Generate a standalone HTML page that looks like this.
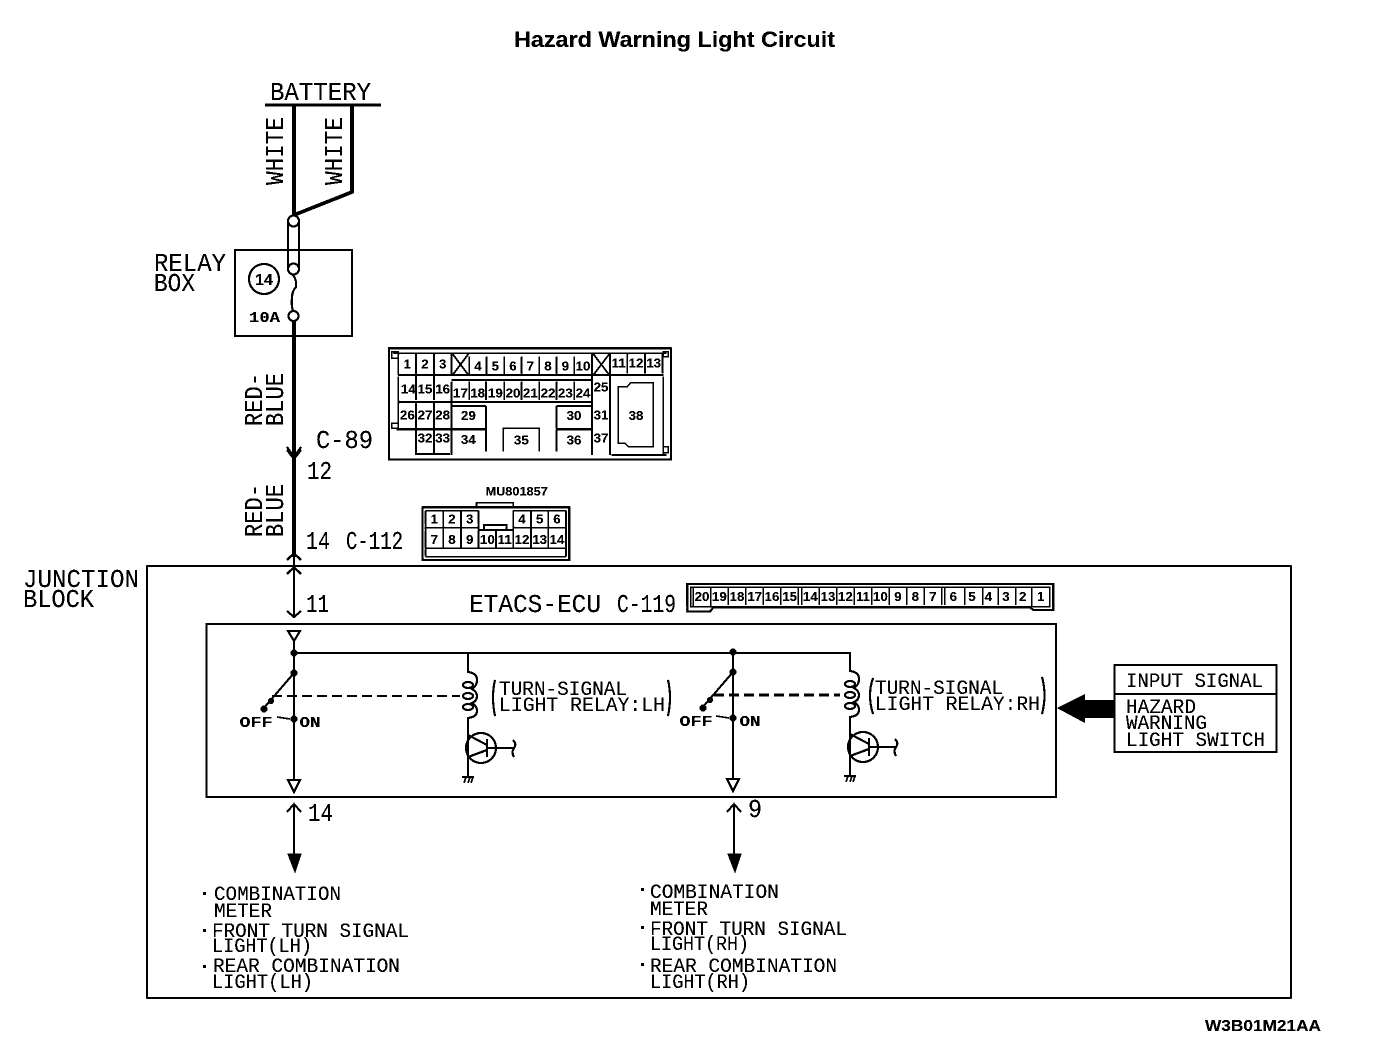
<!DOCTYPE html>
<html><head><meta charset="utf-8"><title>Hazard Warning Light Circuit</title>
<style>
html,body{margin:0;padding:0;background:#fff;width:1376px;height:1042px;overflow:hidden}
svg{display:block}
text{font-family:"Liberation Mono",monospace;fill:#000}
.l{font-size:20px}
.m{font-size:26px}
.v{font-size:26px}
.n{font-family:"Liberation Sans",sans-serif;font-weight:bold;text-anchor:middle;font-size:40px}
.s{font-family:"Liberation Mono",monospace;font-weight:bold;text-anchor:middle;font-size:15px}
</style></head><body>
<svg width="1376" height="1042" viewBox="0 0 1376 1042" xmlns="http://www.w3.org/2000/svg">
<defs><filter id="bw" x="0" y="0" width="100%" height="100%" color-interpolation-filters="sRGB"><feComponentTransfer><feFuncR type="discrete" tableValues="0 0 1"/><feFuncG type="discrete" tableValues="0 0 1"/><feFuncB type="discrete" tableValues="0 0 1"/></feComponentTransfer></filter></defs>
<g filter="url(#bw)">
<rect width="1376" height="1042" fill="#fff"/>
<text x="514" y="47" textLength="321" lengthAdjust="spacingAndGlyphs" style="font-family:'Liberation Sans',sans-serif;font-weight:bold;font-size:22px">Hazard Warning Light Circuit</text>

<!-- battery -->
<text class="m" x="270" y="100" textLength="101" lengthAdjust="spacingAndGlyphs">BATTERY</text>
<g fill="none" stroke="#000">
<path d="M265 105H381" stroke-width="3"/>
<path d="M294 105V218" stroke-width="4"/>
<path d="M352 105V192L294 215" stroke-width="3.5"/>
<path d="M288 221V268M299 221V268" stroke-width="2"/>
<circle cx="293.500" cy="221" r="5.500" stroke-width="2" fill="#fff"/>
<circle cx="293.500" cy="269" r="5.500" stroke-width="2" fill="#fff"/>
<circle cx="293.500" cy="316" r="5" stroke-width="2" fill="#fff"/>
<path d="M293 275Q297 280 296 287Q292 291 292 298Q291 304 293 311" stroke-width="2"/>
<rect x="235" y="250" width="117" height="86" stroke-width="2"/>
<circle cx="264" cy="279" r="15" stroke-width="2"/>
<path d="M294 321V557" stroke-width="4"/>
<path d="M294 557V617" stroke-width="2"/>
<path d="M287 447L294 457L301 447M287 450L294 459L301 450" stroke-width="2"/>
<path d="M287 560L294 553L301 560M287 574L294 567L301 574M287 611L294 617L301 611" stroke-width="2"/>
<rect x="147" y="566" width="1144" height="432" stroke-width="1.500"/>
<rect x="206.500" y="624" width="849.500" height="173" stroke-width="2"/>
</g>
<text class="v" transform="translate(283,185) rotate(-90)" textLength="68" lengthAdjust="spacingAndGlyphs">WHITE</text>
<text class="v" transform="translate(342,185) rotate(-90)" textLength="68" lengthAdjust="spacingAndGlyphs">WHITE</text>
<text x="154" y="271" class="m" textLength="72" lengthAdjust="spacingAndGlyphs">RELAY</text>
<text x="154" y="291" class="m" textLength="41" lengthAdjust="spacingAndGlyphs">BOX</text>
<text x="264" y="285" class="s" style="font-family:'Liberation Sans',sans-serif;font-size:16px">14</text>
<text x="249" y="322" class="s" style="font-size:15px;text-anchor:start" textLength="31" lengthAdjust="spacingAndGlyphs">10A</text>

<text class="v" transform="translate(262,426) rotate(-90)" textLength="53" lengthAdjust="spacingAndGlyphs">RED-</text>
<text class="v" transform="translate(283,426) rotate(-90)" textLength="53" lengthAdjust="spacingAndGlyphs">BLUE</text>
<text class="v" transform="translate(262,537) rotate(-90)" textLength="53" lengthAdjust="spacingAndGlyphs">RED-</text>
<text class="v" transform="translate(283,537) rotate(-90)" textLength="53" lengthAdjust="spacingAndGlyphs">BLUE</text>

<text class="m" x="316" y="448" textLength="57" lengthAdjust="spacingAndGlyphs">C-89</text>
<text class="m" x="307" y="479" textLength="25" lengthAdjust="spacingAndGlyphs">12</text>
<text class="m" x="306" y="549" textLength="24" lengthAdjust="spacingAndGlyphs">14</text>
<text class="m" x="346" y="549" textLength="57" lengthAdjust="spacingAndGlyphs">C-112</text>
<text class="m" x="306" y="612" textLength="23" lengthAdjust="spacingAndGlyphs">11</text>
<text class="m" x="23" y="587" textLength="116" lengthAdjust="spacingAndGlyphs">JUNCTION</text>
<text class="m" x="23" y="607" textLength="71" lengthAdjust="spacingAndGlyphs">BLOCK</text>
<text class="m" x="469" y="612" textLength="132" lengthAdjust="spacingAndGlyphs">ETACS-ECU</text>
<text class="m" x="617" y="612" textLength="59" lengthAdjust="spacingAndGlyphs">C-119</text>

<!-- C-89 and C-112 connectors, drawn in 3x coords -->
<g transform="translate(380,340) scale(.33333)">
<g fill="none" stroke="#000">
<rect x="27" y="25" width="846" height="333" stroke-width="6"/>
<path stroke-width="5" d="M40 40H860M55 40V105M108 40V180M108 190V345M162 40V180M162 190V345M215 40V105M215 125V345M268 50V105M320 50V105M373 50V105M425 50V105M478 50V105M530 50V105M583 50V105M636 40V345M690 40V345M742 40V100M795 40V100M848 40V100"/>
<path stroke-width="6" d="M55 105H850M215 120H636"/>
<path stroke-width="5" d="M55 110V190M268 125V180M318 125V180M373 125V180M425 125V180M478 125V180M530 125V180M583 125V180"/>
<path stroke-width="7" d="M55 186H636M215 198H318M530 198H636M50 268H215M215 268H318M530 268H636M110 342H210M695 345H860"/>
<path stroke-width="5" d="M55 190V272M318 198V335M530 198V335M370 335V265H478V335M850 110V345"/>
<path stroke-width="4" d="M715 140H742L752 128H820V320H745L735 310H715Z"/>
<path stroke-width="5" d="M218 42L265 105M265 42L218 105M640 42L688 105M688 42L640 105"/>
<path stroke-width="4" d="M35 35H55V55H35ZM35 250H55V265H35ZM850 320H865V338H850ZM850 35H865V50H850Z"/>
<!-- C-112 -->
<rect x="128" y="502" width="440" height="158" stroke-width="6"/>
<path stroke-width="5" d="M290 502V488H400V502M137 512H296M400 512H558M137 512V650M190 512V625M243 512V625M296 512V625M400 512V625M453 512V625M505 512V625M558 512V650M137 563H296M400 563H558M296 570H400M348 570V625M137 625H558M137 650H558M312 570V555H380V570"/>
</g>
<g class="t">
<text class="n" x="82" y="85">1</text><text class="n" x="135" y="85">2</text><text class="n" x="188" y="85">3</text>
<text class="n" x="294" y="92">4</text><text class="n" x="346" y="92">5</text><text class="n" x="399" y="92">6</text><text class="n" x="451" y="92">7</text><text class="n" x="504" y="92">8</text><text class="n" x="556" y="92">9</text><text class="n" x="609" y="92">10</text>
<text class="n" x="716" y="82">11</text><text class="n" x="768" y="82">12</text><text class="n" x="821" y="82">13</text>
<text class="n" x="85" y="160">14</text><text class="n" x="135" y="160">15</text><text class="n" x="188" y="160">16</text>
<text class="n" x="241" y="172">17</text><text class="n" x="293" y="172">18</text><text class="n" x="346" y="172">19</text><text class="n" x="399" y="172">20</text><text class="n" x="451" y="172">21</text><text class="n" x="504" y="172">22</text><text class="n" x="556" y="172">23</text><text class="n" x="609" y="172">24</text>
<text class="n" x="663" y="155">25</text>
<text class="n" x="82" y="238">26</text><text class="n" x="135" y="238">27</text><text class="n" x="188" y="238">28</text><text class="n" x="265" y="240">29</text><text class="n" x="582" y="240">30</text><text class="n" x="663" y="238">31</text><text class="n" x="768" y="240">38</text>
<text class="n" x="135" y="307">32</text><text class="n" x="188" y="307">33</text><text class="n" x="265" y="312">34</text><text class="n" x="424" y="314">35</text><text class="n" x="582" y="314">36</text><text class="n" x="663" y="307">37</text>
<text class="n" x="410" y="466" textLength="187" lengthAdjust="spacingAndGlyphs" style="font-size:36px">MU801857</text>
<text class="n" x="163" y="551">1</text><text class="n" x="216" y="551">2</text><text class="n" x="269" y="551">3</text><text class="n" x="426" y="551">4</text><text class="n" x="479" y="551">5</text><text class="n" x="531" y="551">6</text>
<text class="n" x="163" y="612">7</text><text class="n" x="216" y="612">8</text><text class="n" x="269" y="612">9</text><text class="n" x="322" y="612">10</text><text class="n" x="374" y="612">11</text><text class="n" x="426" y="612">12</text><text class="n" x="479" y="612">13</text><text class="n" x="531" y="612">14</text>
</g>
</g>

<!-- C-119 -->
<g transform="translate(670,575) scale(.33333)">
<g fill="none" stroke="#000">
<path stroke-width="6" d="M52 27H1150V105H1090L1080 97H130L120 110H52Z"/>
<path stroke-width="4" d="M62 37H1140V95H62ZM70 37V95H122V37M175 37V90M228 37V90M280 37V90M333 37V90M385 37V90M395 37V90M448 37V90M500 37V90M553 37V90M605 37V90M658 37V90M710 37V90M763 37V90M815 37V90M825 37V90M885 37V90M938 37V90M985 37V90M1038 37V90M1085 37V95"/>
</g>
<text class="n" x="96" y="78">20</text><text class="n" x="148" y="78">19</text><text class="n" x="201" y="78">18</text><text class="n" x="254" y="78">17</text><text class="n" x="306" y="78">16</text><text class="n" x="359" y="78">15</text><text class="n" x="421" y="78">14</text><text class="n" x="474" y="78">13</text><text class="n" x="526" y="78">12</text><text class="n" x="579" y="78">11</text><text class="n" x="631" y="78">10</text><text class="n" x="684" y="78">9</text><text class="n" x="736" y="78">8</text><text class="n" x="789" y="78">7</text><text class="n" x="850" y="78">6</text><text class="n" x="906" y="78">5</text><text class="n" x="955" y="78">4</text><text class="n" x="1008" y="78">3</text><text class="n" x="1058" y="78">2</text><text class="n" x="1112" y="78">1</text>
</g>

<!-- circuit -->
<g fill="none" stroke="#000" stroke-width="2">
<path d="M294 641V653M294 653V780M294 653H851M733 652V779"/>
<path d="M288 631H300L294 641Z" fill="#fff"/>
<g id="sw">
<path d="M288 780H300L294 792Z" fill="#fff"/>
<path d="M294 673L263 709"/>
<path d="M277 717L290 719" stroke-width="1.500"/>
<g fill="#000" stroke="none"><circle cx="294" cy="653" r="3.500"/><circle cx="294" cy="673" r="3.500"/><circle cx="271" cy="701" r="3"/><circle cx="264" cy="709" r="3.500"/><circle cx="294" cy="719" r="3.500"/></g>
</g>
<use href="#sw" transform="translate(439,-1)"/>
<path d="M272 696H460" stroke-dasharray="10 5"/>
<path d="M714 695H840" stroke-width="2.500" stroke-dasharray="10 5"/>
<g id="rl">
<path d="M468 653V672Q477 673 477 680Q477 686 472 689Q477 692 477 696Q477 701 472 703Q477 706 477 711Q477 717 468 718V777"/>
<ellipse cx="468" cy="685" rx="5" ry="3"/><ellipse cx="468" cy="696" rx="5" ry="3"/><ellipse cx="468" cy="707" rx="5" ry="3"/>
<circle cx="481" cy="748" r="15"/>
<path d="M468 735L487 745M468 757L487 750M487 739V757M487 748H513M513 740Q517 744 514 748Q511 752 514 757"/>
<path d="M462 777H474M464 783L466 777M468 783L470 777M471 783L473 777" stroke-width="1.500"/>
</g>
<use href="#rl" transform="translate(382,-1)"/>
<path d="M294 804V855M287 812L294 804L301 812M734 804V855M727 812L734 804L741 812"/>
<path d="M288 854H301L295 872ZM728 854H741L735 872Z" fill="#000" stroke-width="1"/>
<path d="M495 680Q491 697 495 716M668 680Q672 697 668 716M873 678Q867 695 873 714M1042 677Q1047 695 1042 714"/>
<rect x="1114.500" y="665" width="162" height="87" stroke-width="2"/>
<path d="M1114 694H1276"/>
<path d="M1057 708L1085 694V700H1114V718H1085V723Z" fill="#000" stroke="none"/>
</g>
<text class="s" x="256" y="727" textLength="33" lengthAdjust="spacingAndGlyphs">OFF</text>
<text class="s" x="310" y="727" textLength="21" lengthAdjust="spacingAndGlyphs">ON</text>
<text class="s" x="696" y="726" textLength="33" lengthAdjust="spacingAndGlyphs">OFF</text>
<text class="s" x="750" y="726" textLength="21" lengthAdjust="spacingAndGlyphs">ON</text>
<text class="l" x="499" y="695" textLength="128" lengthAdjust="spacingAndGlyphs">TURN-SIGNAL</text>
<text class="l" x="499" y="711" textLength="166" lengthAdjust="spacingAndGlyphs">LIGHT RELAY:LH</text>
<text class="l" x="875" y="694" textLength="128" lengthAdjust="spacingAndGlyphs">TURN-SIGNAL</text>
<text class="l" x="875" y="710" textLength="165" lengthAdjust="spacingAndGlyphs">LIGHT RELAY:RH</text>
<text class="l" x="1126" y="687" textLength="137" lengthAdjust="spacingAndGlyphs">INPUT SIGNAL</text>
<text class="l" x="1126" y="713" textLength="70" lengthAdjust="spacingAndGlyphs">HAZARD</text>
<text class="l" x="1126" y="729" textLength="81" lengthAdjust="spacingAndGlyphs">WARNING</text>
<text class="l" x="1126" y="746" textLength="139" lengthAdjust="spacingAndGlyphs">LIGHT SWITCH</text>

<text class="m" x="308" y="821" textLength="25" lengthAdjust="spacingAndGlyphs">14</text>
<text class="m" x="748" y="817" textLength="14" lengthAdjust="spacingAndGlyphs">9</text>

<g fill="#000"><rect x="203" y="892" width="3" height="3"/><rect x="203" y="929" width="3" height="3"/><rect x="203" y="965" width="3" height="3"/><rect x="641" y="888" width="3" height="3"/><rect x="641" y="926" width="3" height="3"/><rect x="641" y="963" width="3" height="3"/></g>
<text class="l" x="214" y="900" textLength="127" lengthAdjust="spacingAndGlyphs">COMBINATION</text>
<text class="l" x="214" y="917" textLength="58" lengthAdjust="spacingAndGlyphs">METER</text>
<text class="l" x="212" y="937" textLength="197" lengthAdjust="spacingAndGlyphs">FRONT TURN SIGNAL</text>
<text class="l" x="212" y="952" textLength="100" lengthAdjust="spacingAndGlyphs">LIGHT(LH)</text>
<text class="l" x="213" y="972" textLength="187" lengthAdjust="spacingAndGlyphs">REAR COMBINATION</text>
<text class="l" x="212" y="988" textLength="101" lengthAdjust="spacingAndGlyphs">LIGHT(LH)</text>
<text class="l" x="650" y="898" textLength="129" lengthAdjust="spacingAndGlyphs">COMBINATION</text>
<text class="l" x="650" y="915" textLength="58" lengthAdjust="spacingAndGlyphs">METER</text>
<text class="l" x="650" y="935" textLength="197" lengthAdjust="spacingAndGlyphs">FRONT TURN SIGNAL</text>
<text class="l" x="650" y="950" textLength="99" lengthAdjust="spacingAndGlyphs">LIGHT(RH)</text>
<text class="l" x="650" y="972" textLength="187" lengthAdjust="spacingAndGlyphs">REAR COMBINATION</text>
<text class="l" x="650" y="988" textLength="100" lengthAdjust="spacingAndGlyphs">LIGHT(RH)</text>
<text x="1205" y="1031" textLength="116" lengthAdjust="spacingAndGlyphs" style="font-family:'Liberation Sans',sans-serif;font-weight:bold;font-size:16px">W3B01M21AA</text>
</g>
</svg>
</body></html>
